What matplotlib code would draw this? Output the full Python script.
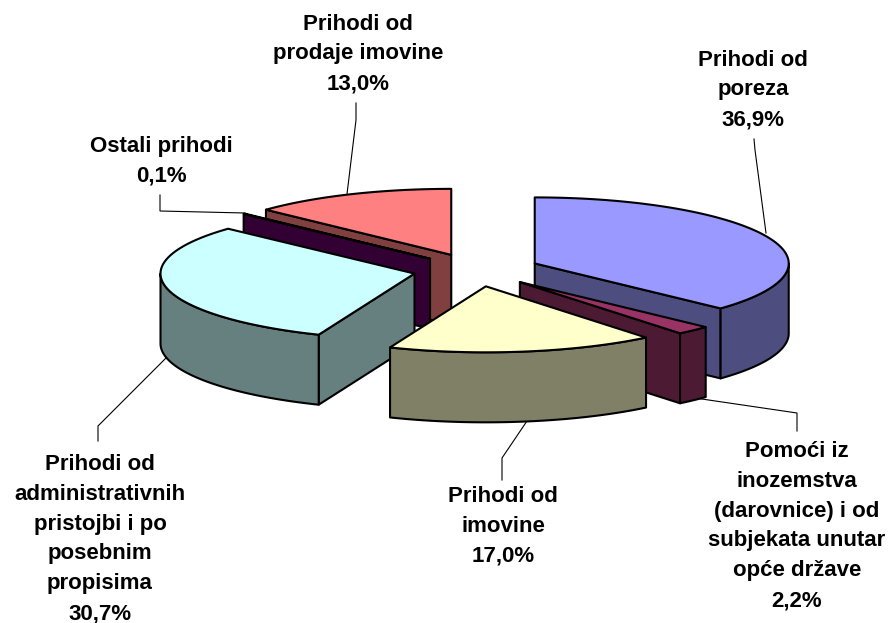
import numpy as np
import matplotlib
matplotlib.use("Agg")
import matplotlib.pyplot as plt
from matplotlib.patches import Polygon

# ---- data ----
categories = [
    "Prihodi od\nporeza",
    "Pomoći iz\ninozemstva\n(darovnice) i od\nsubjekata unutar\nopće države",
    "Prihodi od\nimovine",
    "Prihodi od\nadministrativnih\npristojbi i po\nposebnim\npropisima",
    "Ostali prihodi",
    "Prihodi od\nprodaje imovine",
]
values = [36.9, 2.2, 17.0, 30.7, 0.1, 13.0]
top_colors = ["#9999FF", "#993366", "#FFFFCC", "#CCFFFF", "#660066", "#FF8080"]
side_colors = ["#4D4D80", "#4D1A33", "#808066", "#668080", "#330033", "#804040"]

# ---- layout (pixels) ----
CX, CY = 476.5, 270.0
RX, RY = 254.0, 66.0
DEPTH = 70.0
EXPLODE = 0.25
LW = 1.5

label_pos = [(753, 90), (797, 526), (503, 526), (100, 539), (161, 161), (358, 54)]
leaders = [
    [(754, 139), (755, 150), (766, 233)],
    [(797, 431), (797, 413), (695, 398)],
    [(502, 480), (502, 458), (527, 421)],
    [(98, 441), (98, 426), (166, 358)],
    [(160, 195), (160, 211), (245, 213)],
    [(356, 103), (356, 120), (347, 194)],
]

fig = plt.figure(figsize=(8.92, 6.23), dpi=100)
ax = fig.add_axes([0, 0, 1, 1])
ax.set_xlim(0, 892)
ax.set_ylim(623, 0)
ax.axis("off")


def pt(apex, theta):
    return (apex[0] + RX * np.sin(theta), apex[1] - RY * np.cos(theta))


def add_poly(points, color, z):
    ax.add_patch(Polygon(points, closed=True, facecolor=color, edgecolor="black",
                         linewidth=LW, joinstyle="round", zorder=z))


fractions = np.array(values) / np.sum(values)
edges = np.concatenate([[0], np.cumsum(fractions)]) * 2 * np.pi
wedges = []
for i in range(len(values)):
    t0, t1 = edges[i], edges[i + 1]
    mid = (t0 + t1) / 2
    apex = (CX + EXPLODE * RX * np.sin(mid), CY - EXPLODE * RY * np.cos(mid))
    wedges.append((apex[1], i, t0, t1, mid, apex))

# paint from the back of the scene to the front
for rank, (_, i, t0, t1, mid, apex) in enumerate(sorted(wedges, key=lambda w: w[0])):
    z = 10 + rank * 5
    m = pt(apex, mid)
    # flat cut faces: visible when the wedge body lies above them on screen
    for t in (t0, t1):
        p = pt(apex, t)
        dx, dy = p[0] - apex[0], p[1] - apex[1]
        cross = dx * (m[1] - apex[1]) - dy * (m[0] - apex[0])
        visible = (cross * dx < 0) and abs(dx) > 1
        if visible:
            add_poly([apex, p, (p[0], p[1] + DEPTH), (apex[0], apex[1] + DEPTH)],
                     side_colors[i], z)
    # curved outer face: only the part turned to the viewer
    a0, a1 = max(t0, np.pi / 2), min(t1, 3 * np.pi / 2)
    if a1 > a0:
        th = np.linspace(a0, a1, 80)
        up = [pt(apex, t) for t in th]
        down = [(x, y + DEPTH) for x, y in reversed(up)]
        add_poly(up + down, side_colors[i], z + 1)
    # top face
    th = np.linspace(t0, t1, 120)
    add_poly([apex] + [pt(apex, t) for t in th], top_colors[i], z + 2)

for line in leaders:
    xs, ys = zip(*line)
    ax.plot(xs, ys, color="black", lw=0.8, zorder=5, solid_joinstyle="miter")

for name, v, (x, y) in zip(categories, values, label_pos):
    text = f"{name}\n{v:.1f}%".replace(".", ",")
    ax.text(x, y, text, ha="center", va="center", family="Liberation Sans",
            fontweight="bold", fontsize=16, linespacing=1.56, color="black", zorder=70)

fig.savefig("out.png", dpi=100)
